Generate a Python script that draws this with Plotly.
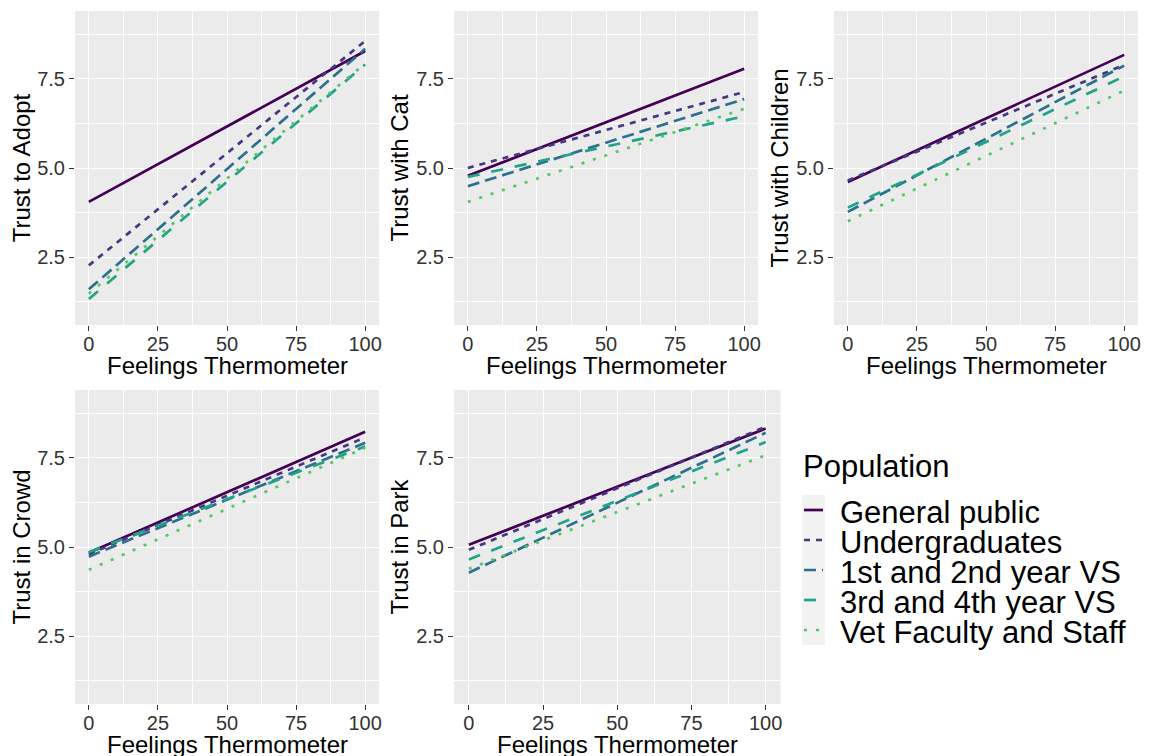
import plotly.graph_objects as go

# ---------------- data ----------------
groups = ["General public", "Undergraduates", "1st and 2nd year VS",
          "3rd and 4th year VS", "Vet Faculty and Staff"]
panels = ["Trust to Adopt", "Trust with Cat", "Trust with Children",
          "Trust in Crowd", "Trust in Park"]
x_title = "Feelings Thermometer"
thermometer = [0, 100]
x_ticks = [0, 25, 50, 75, 100]
y_ticks = [2.5, 5.0, 7.5]

adopt_at0 = [4.05, 2.27, 1.60, 1.33, 1.48]
adopt_at100 = [8.28, 8.56, 8.34, 7.90, 7.93]
cat_at0 = [4.78, 5.00, 4.49, 4.75, 4.05]
cat_at100 = [7.78, 7.13, 6.93, 6.45, 6.66]
children_at0 = [4.61, 4.65, 3.77, 3.89, 3.51]
children_at100 = [8.17, 7.89, 7.87, 7.57, 7.17]
crowd_at0 = [4.84, 4.80, 4.73, 4.86, 4.36]
crowd_at100 = [8.23, 8.07, 7.92, 7.82, 7.78]
park_at0 = [5.06, 4.92, 4.28, 4.65, 4.39]
park_at100 = [8.32, 8.37, 8.20, 7.94, 7.57]

# ---------------- style ----------------
colors = ["#440154", "#453781", "#2D708E", "#20A386", "#55C667"]
dashes = ["solid", "6px,6px", "12px,6px", "12px,12px", "3px,9px"]
FONT = "Liberation Sans, Arial, Helvetica, sans-serif"
W, H = 1157, 756
OFF = 8  # page body margin offset

def px_x(p):
    return (p - OFF) / W

def px_y(p):
    return 1 - (p - OFF) / H

# panel pixel boxes in screenshot coords (left, right, top, bottom)
boxes = [(75, 379, 11, 325), (454, 758, 11, 325), (834, 1138, 11, 325),
         (75, 379, 390, 704), (454, 780.5, 390, 704)]

starts = [adopt_at0, cat_at0, children_at0, crowd_at0, park_at0]
ends = [adopt_at100, cat_at100, children_at100, crowd_at100, park_at100]

fig = go.Figure()
layout = dict(
    width=W, height=H,
    margin=dict(l=0, r=0, t=0, b=0, autoexpand=False),
    paper_bgcolor="white", plot_bgcolor="#EBEBEB",
    font=dict(family=FONT, color="black"),
    showlegend=False,
)
annotations = []

for i, name in enumerate(panels):
    k = "" if i == 0 else str(i + 1)
    for g in range(len(groups)):
        fig.add_trace(go.Scatter(
            x=thermometer, y=[starts[i][g], ends[i][g]],
            mode="lines", name=groups[g],
            line=dict(color=colors[g], width=2.7, dash=dashes[g]),
            xaxis="x" + k, yaxis="y" + k, showlegend=False,
            hoverinfo="skip"))
    l, r, t, b = boxes[i]
    layout["xaxis" + k] = dict(
        domain=[px_x(l), px_x(r)], anchor="y" + k, range=[-5, 105],
        automargin=False,
        tickvals=x_ticks, ticks="outside", ticklen=5, tickwidth=1.3,
        tickcolor="#333333", tickfont=dict(size=20, color="#333333"),
        ticklabelstandoff=-4,
        showgrid=True, gridcolor="white", gridwidth=1.3, zeroline=False,
        showline=False,
        minor=dict(showgrid=True, gridcolor="white", gridwidth=0.6,
                   dtick=12.5, tick0=0, ticks=""),
    )
    layout["yaxis" + k] = dict(
        domain=[px_y(b), px_y(t)], anchor="x" + k, range=[0.6, 9.4],
        automargin=False,
        tickvals=y_ticks, tickformat=".1f", ticks="outside", ticklen=5,
        tickwidth=1.3, tickcolor="#333333",
        tickfont=dict(size=20, color="#333333"),
        showgrid=True, gridcolor="white", gridwidth=1.3, zeroline=False,
        showline=False,
        minor=dict(showgrid=True, gridcolor="white", gridwidth=0.6,
                   dtick=1.25, tick0=0, ticks=""),
        title=dict(text=name, font=dict(size=24), standoff=0),
    )
    # x-axis title, placed relative to the panel's domain
    annotations.append(dict(
        text=x_title, xref="x" + k + " domain", yref="y" + k + " domain",
        x=0.5, y=-(40.0 / (b - t)), xanchor="center", yanchor="middle",
        showarrow=False, font=dict(size=24, family=FONT, color="black")))

# ---------------- legend (manual) ----------------
shapes = []
shapes.append(dict(type="rect", xref="paper", yref="paper",
                   x0=px_x(802), x1=px_x(825), y0=px_y(645), y1=px_y(495),
                   fillcolor="#F2F2F2", line=dict(width=0), layer="below"))
annotations.append(dict(text="Population", xref="paper", yref="paper",
                        x=px_x(801), y=px_y(467), xanchor="left",
                        yanchor="middle", showarrow=False,
                        font=dict(size=31, family=FONT, color="black")))
key_y = [510, 540, 570, 600, 630]
for g in range(len(groups)):
    shapes.append(dict(type="line", xref="paper", yref="paper",
                       x0=px_x(804), x1=px_x(823),
                       y0=px_y(key_y[g]), y1=px_y(key_y[g]),
                       line=dict(color=colors[g], width=2.7, dash=dashes[g])))
    annotations.append(dict(text=groups[g], xref="paper", yref="paper",
                            x=px_x(838), y=px_y(key_y[g] + 2),
                            xanchor="left", yanchor="middle",
                            showarrow=False,
                            font=dict(size=31, family=FONT, color="black")))

layout["shapes"] = shapes
layout["annotations"] = annotations
fig.update_layout(**layout)
fig.write_html("out.html")
